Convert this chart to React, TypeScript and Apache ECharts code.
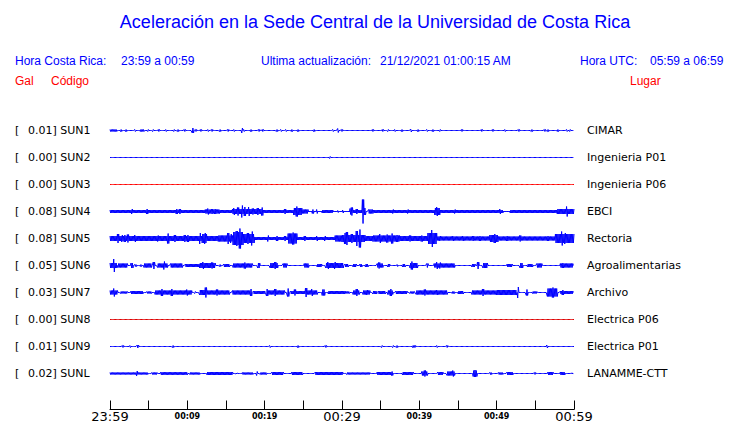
import React, { useEffect, useRef } from "react";
import * as echarts from "echarts";

// ---------- texts ----------
const TITLE = "Aceleración en la Sede Central de la Universidad de Costa Rica";
const headerBlue: [number, string][] = [
  [15, "Hora Costa Rica:"],
  [121, "23:59 a 00:59"],
  [261, "Ultima actualización:"],
  [380, "21/12/2021 01:00:15 AM"],
  [580, "Hora UTC:"],
  [650, "05:59 a 06:59"],
];
const headerRed: [number, string][] = [
  [15, "Gal"],
  [51, "Código"],
  [630, "Lugar"],
];

// ---------- stations ----------
const codes = ["SUN1", "SUN2", "SUN3", "SUN4", "SUN5", "SUN6", "SUN7", "SUN8", "SUN9", "SUNL"];
const gals = ["0.01", "0.00", "0.00", "0.08", "0.08", "0.05", "0.03", "0.00", "0.01", "0.02"];
const places = [
  "CIMAR",
  "Ingenieria P01",
  "Ingenieria P06",
  "EBCI",
  "Rectoria",
  "Agroalimentarias",
  "Archivo",
  "Electrica P06",
  "Electrica P01",
  "LANAMME-CTT",
];
const traceColors = ["#0000ff", "#0000ff", "#ff0000", "#0000ff", "#0000ff", "#0000ff", "#0000ff", "#dd0000", "#0000ff", "#0000ff"];

// time axis (minutes after 23:59), one tick every 5 minutes
const timeTicks = ["23:59", "", "00:09", "", "00:19", "", "00:29", "", "00:39", "", "00:49", "", "00:59"];
const majorTimeTicks = ["23:59", "00:29", "00:59"];

// ---------- trace envelopes: [startMin, endMin, halfAmplitude] (start==end: single spike) ----------
type Seg = [number, number, number];

const sun1: Seg[] = [
  [0, 0.9, 1.5], [1.3, 1.55, 1.5], [2.07, 2.07, 1.5], [3.23, 3.23, 1.5], [3.9, 4.4, 1.5], [4.91, 4.91, 1.5],
  [5.56, 5.56, 1.5], [6.34, 6.34, 1.5], [7.24, 7.24, 1.5], [8.28, 8.28, 1.5], [8.79, 8.79, 1.5], [9.7, 9.7, 1.5],
  [10.73, 10.73, 3], [11.12, 11.12, 1.5], [11.77, 11.77, 1.5], [12.67, 12.67, 1.5], [13.19, 13.19, 1.5],
  [14.22, 14.22, 1.5], [15.26, 15.26, 1.5], [16.03, 16.03, 1.5], [17.07, 17.07, 3], [17.33, 17.33, 1.5],
  [18.23, 18.23, 1.5], [19.27, 19.27, 1.5], [19.78, 19.78, 1.5], [21.59, 21.59, 1.5], [22.11, 22.11, 1.5],
  [22.76, 22.76, 1.5], [23.53, 23.53, 1.5], [24.31, 24.31, 1.5], [26.38, 26.38, 1.5], [28.84, 28.84, 1.5],
  [29.48, 29.48, 2.5], [30.0, 30.0, 1.5], [34.01, 34.01, 1.5], [35.3, 35.3, 1.5], [35.95, 35.95, 1.5],
  [36.85, 36.85, 1.5], [37.76, 37.76, 1.5], [38.92, 38.92, 2], [39.83, 39.83, 1.5], [40.99, 40.99, 1.5],
  [41.77, 41.77, 1.5], [42.67, 42.67, 1.5], [45.52, 45.52, 1.5], [48.1, 48.1, 1.5], [49.53, 49.53, 1.5],
  [51.08, 51.08, 1.5], [52.89, 52.89, 1.5], [54.57, 54.57, 1.5], [56.25, 56.25, 1.5], [56.64, 56.64, 1.5],
  [57.93, 57.93, 1.5], [59.09, 59.09, 1.5], [59.48, 59.48, 1.5],
];
const sun2: Seg[] = [[28.45, 28.45, 1.5]];
const sun3: Seg[] = [];
const sun4: Seg[] = [
  [0, 12.3, 2], [2.84, 2.84, 3], [4.78, 4.78, 3], [8.66, 8.66, 3], [9.05, 9.05, 3],
  [12.3, 14.2, 2.5], [12.67, 12.67, 3.5], [13.19, 13.19, 3], [13.58, 13.58, 3],
  [14.2, 15.8, 2],
  [15.8, 19.8, 3], [16.03, 16.03, 4], [16.55, 16.55, 4.5], [17.07, 17.07, 6.5], [17.46, 17.46, 5],
  [17.97, 17.97, 5], [18.49, 18.49, 3.5], [19.14, 19.14, 4], [19.66, 19.66, 4.5],
  [19.8, 23.7, 2], [22.63, 22.63, 3],
  [23.7, 24.8, 4], [24.18, 24.18, 5.5],
  [24.8, 25.6, 2.5],
  [25.6, 31.0, 1], [26.25, 26.25, 2.5], [26.77, 26.77, 2.5], [27.4, 28.8, 2], [29.48, 29.48, 1.5], [30.13, 30.13, 2],
  [31.0, 31.4, 3.5], [31.29, 31.29, 4.5],
  [31.4, 32.6, 2], [31.94, 31.94, 3], [32.72, 32.72, 12.5], [32.97, 32.97, 4],
  [33.4, 34.0, 2.5],
  [34.0, 42.0, 2], [36.59, 36.59, 2.5], [38.53, 38.53, 2.5],
  [42.0, 42.7, 4], [42.28, 42.28, 5],
  [42.7, 50.8, 2], [44.61, 44.61, 2.5], [50.43, 50.43, 3],
  [50.8, 51.7, 1],
  [51.7, 57.8, 2],
  [57.8, 60, 3], [59.09, 59.09, 5.5],
];
const sun5: Seg[] = [
  [0, 4.5, 3], [1.03, 1.03, 5], [1.55, 1.55, 4], [1.94, 1.94, 4], [2.33, 2.33, 4.5], [3.23, 3.23, 4],
  [4.5, 7.5, 3], [6.21, 6.21, 3.5], [7.5, 7.5, 5.5],
  [7.5, 11.9, 3], [8.4, 8.4, 4], [9.7, 9.7, 4], [10.09, 10.09, 4], [11.64, 11.64, 6],
  [11.9, 12.5, 5], [12.28, 12.28, 6],
  [12.5, 14.0, 3],
  [14.0, 15.9, 3.5], [15.26, 15.26, 6], [15.65, 15.65, 5],
  [15.9, 17.2, 7], [16.4, 16.4, 8], [16.81, 16.81, 10.5],
  [17.2, 18.7, 5], [17.84, 17.84, 6], [18.36, 18.36, 7.5],
  [18.7, 23.0, 2], [20.43, 20.43, 3.5], [21.59, 21.59, 3], [22.63, 22.63, 3],
  [23.0, 24.2, 5.5], [23.66, 23.66, 6.5],
  [24.2, 29.1, 2], [25.22, 25.22, 3], [26.77, 26.77, 3], [27.8, 27.8, 3],
  [29.1, 30.0, 3.5],
  [30.0, 33.0, 4], [30.39, 30.39, 6], [30.65, 30.65, 7], [31.29, 31.29, 5], [31.94, 31.94, 8], [32.33, 32.33, 9.5],
  [33.0, 34.0, 3],
  [34.0, 37.5, 3.5], [34.91, 34.91, 5], [35.82, 35.82, 4.5], [36.47, 36.47, 5.5], [37.11, 37.11, 4],
  [37.5, 41.1, 3], [38.79, 38.79, 3.5], [40.34, 40.34, 3.5],
  [41.1, 42.3, 6], [41.64, 41.64, 9],
  [42.3, 49.1, 2.5], [42.67, 42.67, 3], [44.35, 44.35, 3], [45.65, 45.65, 3], [46.94, 46.94, 3], [47.84, 47.84, 3],
  [49.1, 50.2, 4], [49.78, 49.78, 5],
  [50.2, 57.6, 2.5], [51.34, 51.34, 3], [53.02, 53.02, 3.5], [56.64, 56.64, 3],
  [57.6, 60, 5], [58.45, 58.45, 7.5], [58.84, 58.84, 6],
];
const sun6: Seg[] = [
  [0, 0.9, 3], [0.52, 0.52, 7], [1.0, 2.3, 2.5], [2.7, 3.0, 3], [3.2, 3.5, 1.5], [3.9, 4.1, 1.5],
  [4.4, 5.4, 2.5], [5.69, 5.69, 4], [6.1, 7.5, 2.5], [6.98, 6.98, 4.5], [7.8, 9.4, 2.5], [9.7, 11.6, 2],
  [11.6, 13.6, 3], [12.03, 12.03, 4], [13.19, 13.19, 3.5], [14.22, 14.22, 1.5], [14.7, 15.5, 2],
  [15.9, 18.4, 2.5], [17.46, 17.46, 3.5], [19.1, 19.4, 3], [20.7, 21.7, 3], [21.34, 21.34, 4],
  [22.4, 22.9, 2.5], [25.1, 25.7, 2.5], [26.8, 27.4, 2], [27.9, 30.2, 3], [28.19, 28.19, 4], [29.09, 29.09, 4],
  [30.4, 30.8, 2], [31.4, 31.9, 2], [32.3, 32.6, 2], [33.0, 33.4, 2], [34.5, 35.3, 2.5], [34.78, 34.78, 3.5],
  [35.9, 36.2, 2], [37.15, 37.15, 1.5], [37.8, 38.2, 2], [38.8, 39.8, 3], [39.05, 39.05, 4.5],
  [41.05, 41.05, 2.5], [41.9, 44.6, 2.5], [42.28, 42.28, 4], [42.67, 42.67, 3.5], [46.8, 47.2, 2],
  [47.59, 47.59, 4], [48.2, 48.8, 3], [51.3, 52.0, 2], [53.0, 53.4, 3], [54.0, 54.7, 2], [55.2, 55.9, 2.5],
  [58.2, 59.9, 2.5], [58.58, 58.58, 3],
];
const sun7: Seg[] = [
  [0, 1.0, 2.5], [0.52, 0.52, 4.5], [1.3, 2.3, 1.5], [2.7, 4.3, 2], [4.8, 5.4, 1.5],
  [5.8, 10.6, 2.5], [6.72, 6.72, 4], [8.02, 8.02, 4], [9.96, 9.96, 3.5], [10.99, 10.99, 1.5],
  [11.6, 12.3, 3], [12.41, 12.41, 5.5], [12.5, 15.5, 2.5], [13.84, 13.84, 3.5],
  [15.8, 18.1, 2.5], [18.23, 18.23, 4], [18.5, 20.0, 2], [20.3, 20.3, 4], [20.4, 22.6, 2.5], [21.34, 21.34, 4],
  [23.02, 23.02, 4.5], [23.3, 25.2, 2], [23.92, 23.92, 3.5], [25.34, 25.34, 5], [25.5, 26.8, 2.5], [26.12, 26.12, 4],
  [27.4, 27.8, 3.5], [28.2, 30.4, 2],
  [30.4, 31.0, 1.5], [31.4, 32.3, 2.5], [31.94, 31.94, 4], [32.7, 33.6, 2.5], [33.23, 33.23, 3],
  [34.0, 34.5, 2], [34.7, 35.6, 2], [35.9, 36.6, 2.5], [36.34, 36.34, 4], [36.9, 38.4, 2], [38.8, 39.4, 1.5],
  [39.6, 43.6, 2.5], [40.73, 40.73, 3.5], [42.28, 42.28, 3], [44.2, 44.6, 1.5], [45.0, 45.7, 2],
  [46.8, 50.0, 2.5], [48.23, 48.23, 4], [50.0, 52.6, 3], [52.76, 52.76, 6], [53.92, 53.92, 3.5],
  [54.6, 55.2, 1.5], [56.5, 57.9, 4.5], [57.28, 57.28, 5.5], [58.2, 59.9, 2], [58.58, 58.58, 3],
];
const sun8: Seg[] = [];
const sun9: Seg[] = [
  [1.68, 1.68, 1.5], [2.59, 2.59, 1.5], [3.62, 3.62, 2], [8.15, 8.15, 1.5], [20.69, 20.69, 1.5],
  [24.31, 24.31, 1.5], [27.93, 27.93, 1.5], [35.17, 35.17, 1.5], [36.59, 36.59, 1.5], [37.11, 37.11, 1.5],
  [39.18, 39.18, 1.5], [39.44, 39.44, 1.5], [42.28, 42.28, 1.5], [43.58, 43.58, 1.5], [56.51, 56.51, 2],
];
const sunL: Seg[] = [
  [0, 4.9, 1.5], [3.49, 3.49, 3], [5.4, 6.1, 1.5], [6.5, 10.0, 1.8], [10.3, 11.6, 1.5], [12.5, 15.9, 2],
  [16.2, 16.5, 1], [17.1, 18.5, 1.5], [19.01, 19.01, 2.5], [19.4, 20.3, 1.5], [20.9, 22.4, 2],
  [23.5, 24.9, 2], [26.5, 30.1, 2], [30.6, 33.6, 1.5],
  [34.5, 36.6, 2], [36.47, 36.47, 2.5], [37.8, 39.2, 2], [40.3, 41.1, 2.5], [40.73, 40.73, 3.5],
  [42.4, 43.1, 2], [43.6, 44.6, 2.5], [44.35, 44.35, 3.5], [46.9, 47.5, 3.5], [47.2, 47.2, 4],
  [49.1, 49.4, 1.5], [50.2, 50.8, 1.5], [51.3, 52.1, 2], [54.96, 54.96, 1.5], [56.6, 57.3, 2],
  [58.2, 58.8, 2], [59.74, 59.74, 1],
];
const traces: Seg[][] = [sun1, sun2, sun3, sun4, sun5, sun6, sun7, sun8, sun9, sunL];

// ---------- layout ----------
const ROW = 27;
const SAMPLES = 750;

function buildTrace(segs: Seg[], center: number): number[][] {
  const pts: number[][] = [];
  for (let k = 0; k <= SAMPLES; k++) {
    const t = (k * 60) / SAMPLES;
    let a = 0.5;
    for (const [t0, t1, amp] of segs) {
      const pad = t0 === t1 ? 0.1 : 0;
      if (t >= t0 - pad && t <= t1 + pad && amp > a) a = amp;
    }
    const h = a - 0.5;
    pts.push([t, center + (k % 2 ? h : -h)]);
  }
  return pts;
}

export default function App() {
  const ref = useRef<HTMLDivElement>(null);
  useEffect(() => {
    if (!ref.current) return;
    const chart = echarts.init(ref.current, undefined, { renderer: "svg" });
    const rowLabel = (v: number) => {
      if (v % ROW !== 0) return "";
      const i = v / ROW;
      if (i < 0 || i >= codes.length) return "";
      return "{br|[}" + gals[i] + "] " + codes[i];
    };
    const placeLabel = (v: number) => {
      if (v % ROW !== 0) return "";
      const i = v / ROW;
      if (i < 0 || i >= places.length) return "";
      return places[i];
    };
    const yCommon = {
      type: "value" as const,
      inverse: true,
      min: -ROW,
      max: 279,
      interval: ROW,
      axisLine: { show: false },
      axisTick: { show: false },
      splitLine: { show: false },
    };
    const graphics: any[] = [
      {
        type: "text",
        x: 375,
        y: 22,
        style: {
          text: TITLE,
          font: "18px 'Liberation Sans', Arial, sans-serif",
          fill: "#0000ff",
          textAlign: "center",
          textVerticalAlign: "middle",
        },
      },
      ...headerBlue.map(([x, t]) => ({
        type: "text",
        x,
        y: 61,
        style: {
          text: t,
          font: "12px 'Liberation Sans', Arial, sans-serif",
          fill: "#0000ff",
          textAlign: "left",
          textVerticalAlign: "middle",
        },
      })),
      ...headerRed.map(([x, t]) => ({
        type: "text",
        x,
        y: 81,
        style: {
          text: t,
          font: "12px 'Liberation Sans', Arial, sans-serif",
          fill: "#ff0000",
          textAlign: "left",
          textVerticalAlign: "middle",
        },
      })),
    ];
    chart.setOption({
      animation: false,
      graphic: graphics,
      grid: { left: 110, right: 166, top: 103.5, bottom: 13.5 },
      xAxis: {
        type: "value",
        min: 0,
        max: 60,
        interval: 5,
        axisLine: { show: true, onZero: false, lineStyle: { color: "#000", width: 1 } },
        axisTick: { show: true, inside: true, length: 9, lineStyle: { color: "#000", width: 1 } },
        splitLine: { show: false },
        axisLabel: {
          margin: 0,
          showMinLabel: true,
          showMaxLabel: true,
          hideOverlap: false,
          formatter: (v: number) => {
            const lbl = timeTicks[Math.round(v / 5)] || "";
            if (!lbl) return "";
            return majorTimeTicks.includes(lbl) ? "{big|" + lbl + "}" : "{small|" + lbl + "}";
          },
          rich: {
            big: { fontFamily: "DejaVu Sans", fontSize: 13, color: "#000", lineHeight: 14 },
            small: { fontFamily: "DejaVu Sans", fontSize: 8, fontWeight: "bold", color: "#000", lineHeight: 14 },
          },
        },
      },
      yAxis: [
        {
          ...yCommon,
          position: "left",
          axisLabel: {
            align: "left",
            margin: 95,
            fontFamily: "DejaVu Sans",
            fontSize: 11,
            color: "#000",
            showMinLabel: true,
            showMaxLabel: true,
            formatter: rowLabel,
            rich: {
              br: { width: 13, fontFamily: "DejaVu Sans", fontSize: 11, color: "#000" },
            },
          },
        },
        {
          ...yCommon,
          position: "right",
          axisLabel: {
            align: "left",
            margin: 13,
            fontFamily: "DejaVu Sans",
            fontSize: 11,
            color: "#000",
            showMinLabel: true,
            showMaxLabel: true,
            formatter: placeLabel,
          },
        },
      ],
      series: traces.map((segs, i) => ({
        type: "line",
        name: codes[i],
        xAxisIndex: 0,
        yAxisIndex: 0,
        data: buildTrace(segs, i * ROW),
        symbol: "none",
        showSymbol: false,
        silent: true,
        lineStyle: { width: 1, color: traceColors[i] },
        itemStyle: { color: traceColors[i] },
      })),
    });
    return () => chart.dispose();
  }, []);
  return (
    <div
      ref={ref}
      style={{ position: "fixed", left: 0, top: 0, width: 740, height: 423, background: "#fff" }}
    />
  );
}
